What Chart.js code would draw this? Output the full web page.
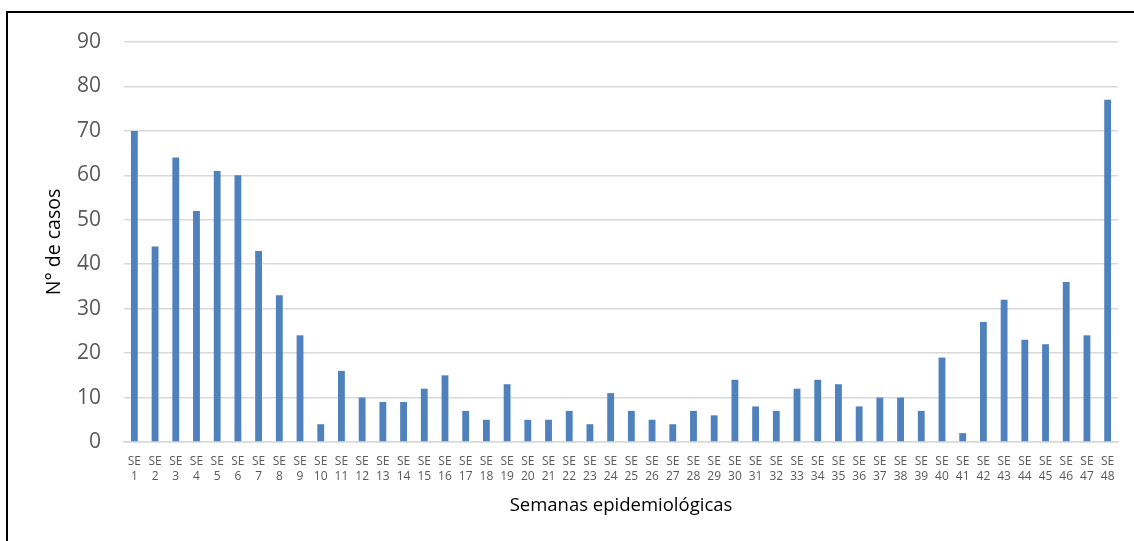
<!DOCTYPE html>
<html>
<head>
<meta charset="utf-8">
<script src="https://cdn.jsdelivr.net/npm/chart.js@4/dist/chart.umd.min.js"></script>
<style>
  html, body { margin: 0; padding: 0; background: #fff; overflow: hidden; }
  #wrap { position: relative; width: 1134px; height: 541px; }
  #frame {
    position: absolute; left: 6px; top: 11px; width: 1200px; height: 600px;
    border-left: 2px solid #000; border-top: 2px solid #000; pointer-events: none;
  }
  canvas { position: absolute; left: 0; top: 0; }
</style>
</head>
<body>
<div id="wrap">
  <canvas id="casesChart" width="1134" height="541"></canvas>
  <div id="frame"></div>
</div>
<script>
// Weekly cases per epidemiological week
const weekNumbers = ['1','2','3','4','5','6','7','8','9','10','11','12','13','14','15','16',
  '17','18','19','20','21','22','23','24','25','26','27','28','29','30','31','32',
  '33','34','35','36','37','38','39','40','41','42','43','44','45','46','47','48'];
const caseCounts = [70, 44, 64, 52, 61, 60, 43, 33, 24, 4, 16, 10, 9, 9, 12, 15,
  7, 5, 13, 5, 5, 7, 4, 11, 7, 5, 4, 7, 6, 14, 8, 7,
  12, 14, 13, 8, 10, 10, 7, 19, 2, 27, 32, 23, 22, 36, 24, 77];
const yTicks = [0, 10, 20, 30, 40, 50, 60, 70, 80, 90];

const axisTitleY = 'N° de casos';
const axisTitleX = 'Semanas epidemiológicas';

const weekLabels = weekNumbers.map(n => ['SE', n]);
const fontFamily = '"Open Sans", "Noto Sans", sans-serif';

const ctx = document.getElementById('casesChart').getContext('2d');
new Chart(ctx, {
  type: 'bar',
  data: {
    labels: weekLabels,
    datasets: [{
      label: 'Casos',
      data: caseCounts,
      backgroundColor: '#4F81BD',
      borderWidth: 0,
      barPercentage: 0.33,
      categoryPercentage: 1.0
    }]
  },
  options: {
    responsive: false,
    animation: false,
    layout: { padding: { left: 43, top: 42, right: 16, bottom: 24 } },
    plugins: { legend: { display: false }, tooltip: { enabled: false } },
    scales: {
      x: {
        grid: { display: false, drawTicks: false },
        border: { display: true, color: '#D9D9D9', width: 1.5 },
        ticks: {
          autoSkip: false, maxRotation: 0, minRotation: 0,
          color: '#595959', padding: 12,
          font: { family: fontFamily, size: 12, lineHeight: 1.28 }
        },
        title: {
          display: true, text: axisTitleX, color: '#000',
          font: { family: fontFamily, size: 18.5 }, padding: 0
        },
        afterFit: scale => { scale.height = 75; }
      },
      y: {
        min: 0, max: 90,
        afterBuildTicks: scale => { scale.ticks = yTicks.map(v => ({ value: v })); },
        grid: { color: '#D9D9D9', lineWidth: 1.5, drawTicks: false },
        border: { display: false },
        ticks: {
          color: '#595959', padding: 23,
          font: { family: fontFamily, size: 21 }
        },
        title: {
          display: true, text: axisTitleY, color: '#000',
          font: { family: fontFamily, size: 19.5 }, padding: 0
        },
        afterFit: scale => { scale.width = 81; }
      }
    }
  }
});
</script>
</body>
</html>
